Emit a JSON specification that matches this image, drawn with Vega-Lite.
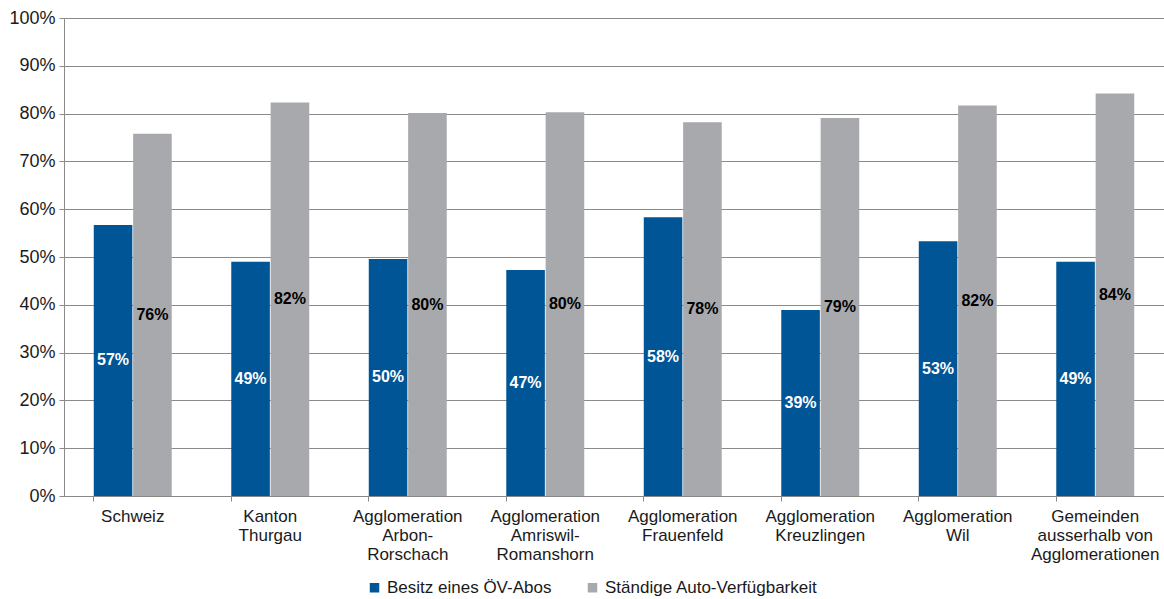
{
  "$schema": "https://vega.github.io/schema/vega-lite/v6.json",
  "autosize": "none",
  "width": 1100,
  "height": 478,
  "padding": {"left": 64, "top": 18, "right": 0, "bottom": 103},
  "background": "white",
  "config": {
    "view": {"stroke": null},
    "font": "Liberation Sans",
    "axis": {"labelFont": "Liberation Sans", "labelColor": "#1a1a1a"}
  },
  "data": {
    "values": [
      {"cat": "Schweiz", "series": "Besitz eines ÖV-Abos", "value": 0.567},
      {"cat": "Schweiz", "series": "Ständige Auto-Verfügbarkeit", "value": 0.758},
      {"cat": "Kanton|Thurgau", "series": "Besitz eines ÖV-Abos", "value": 0.49},
      {"cat": "Kanton|Thurgau", "series": "Ständige Auto-Verfügbarkeit", "value": 0.823},
      {"cat": "Agglomeration|Arbon-|Rorschach", "series": "Besitz eines ÖV-Abos", "value": 0.496},
      {"cat": "Agglomeration|Arbon-|Rorschach", "series": "Ständige Auto-Verfügbarkeit", "value": 0.801},
      {"cat": "Agglomeration|Amriswil-|Romanshorn", "series": "Besitz eines ÖV-Abos", "value": 0.473},
      {"cat": "Agglomeration|Amriswil-|Romanshorn", "series": "Ständige Auto-Verfügbarkeit", "value": 0.803},
      {"cat": "Agglomeration|Frauenfeld", "series": "Besitz eines ÖV-Abos", "value": 0.583},
      {"cat": "Agglomeration|Frauenfeld", "series": "Ständige Auto-Verfügbarkeit", "value": 0.782},
      {"cat": "Agglomeration|Kreuzlingen", "series": "Besitz eines ÖV-Abos", "value": 0.389},
      {"cat": "Agglomeration|Kreuzlingen", "series": "Ständige Auto-Verfügbarkeit", "value": 0.791},
      {"cat": "Agglomeration|Wil", "series": "Besitz eines ÖV-Abos", "value": 0.533},
      {"cat": "Agglomeration|Wil", "series": "Ständige Auto-Verfügbarkeit", "value": 0.817},
      {"cat": "Gemeinden|ausserhalb von|Agglomerationen", "series": "Besitz eines ÖV-Abos", "value": 0.49},
      {"cat": "Gemeinden|ausserhalb von|Agglomerationen", "series": "Ständige Auto-Verfügbarkeit", "value": 0.842}
    ]
  },
  "encoding": {
    "xOffset": {"field": "series", "type": "nominal", "scale": {"paddingInner": 0.02}}
  },
  "layer": [
    {
      "mark": {"type": "bar"},
      "encoding": {
        "x": {
          "field": "cat",
          "type": "nominal",
          "sort": null,
          "scale": {"paddingInner": 0.433, "paddingOuter": 0.2165},
          "axis": {
            "title": null,
            "orient": "bottom",
            "labelAngle": 0,
            "labelExpr": "split(datum.label, '|')",
            "labelFontSize": 17,
            "labelPadding": 12,
            "labelLineHeight": 19,
            "labelLimit": 0,
            "ticks": false,
            "domainColor": "#888888",
            "grid": false
          }
        },
        "y": {
          "field": "value",
          "type": "quantitative",
          "scale": {"domain": [0, 1], "nice": false},
          "axis": {
            "title": null,
            "format": ".0%",
            "values": [0, 0.1, 0.2, 0.3, 0.4, 0.5, 0.6, 0.7, 0.8, 0.9, 1],
            "labelOverlap": false,
            "labelFontSize": 18,
            "labelPadding": 4,
            "grid": true,
            "gridColor": "#8a8a8a",
            "gridWidth": 1,
            "domainColor": "#8a8a8a",
            "tickColor": "#8a8a8a",
            "tickSize": 5
          }
        },
        "color": {
          "field": "series",
          "type": "nominal",
          "scale": {"domain": ["Besitz eines ÖV-Abos", "Ständige Auto-Verfügbarkeit"], "range": ["#005596", "#A7A9AC"]},
          "legend": {
            "title": null,
            "orient": "none",
            "direction": "horizontal",
            "legendX": 302,
            "legendY": 561,
            "symbolType": "square",
            "symbolSize": 90,
            "symbolStrokeWidth": 0,
            "labelFontSize": 17,
            "labelLimit": 0,
            "labelColor": "#1a1a1a",
            "columnPadding": 32,
            "labelOffset": 4
          }
        }
      }
    },
    {
      "mark": {"type": "text", "fontSize": 16, "fontWeight": "bold", "baseline": "middle"},
      "encoding": {
        "x": {
          "field": "cat",
          "type": "nominal",
          "sort": null,
          "axis": {
            "title": null,
            "orient": "bottom",
            "bandPosition": 0,
            "labels": false,
            "domain": false,
            "ticks": true,
            "tickSize": 5,
            "tickColor": "#888888",
            "grid": false
          }
        },
        "y": {"field": "value", "type": "quantitative", "scale": {"domain": [0, 2], "nice": false}, "axis": null},
        "text": {"field": "value", "type": "quantitative", "format": ".0%"},
        "color": {
          "field": "series",
          "type": "nominal",
          "scale": {"domain": ["Besitz eines ÖV-Abos", "Ständige Auto-Verfügbarkeit"], "range": ["#ffffff", "#000000"]},
          "legend": null
        }
      }
    }
  ],
  "resolve": {"scale": {"y": "independent", "color": "independent"}, "axis": {"x": "independent"}}
}
